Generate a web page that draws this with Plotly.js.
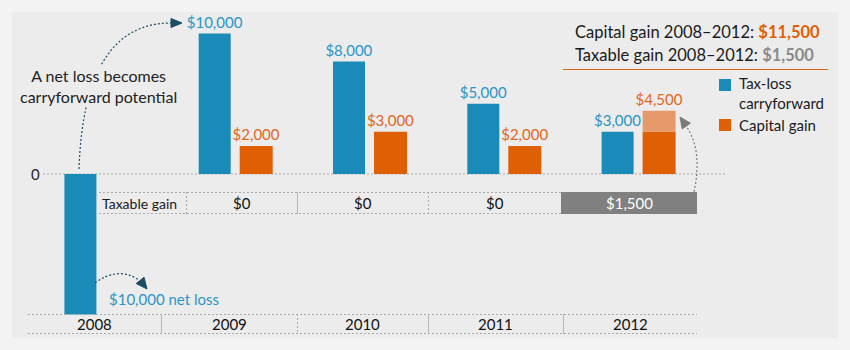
<!DOCTYPE html>
<html>
<head>
<meta charset="utf-8">
<script src="https://cdn.plot.ly/plotly-3.0.1.min.js"></script>
<style>html,body{margin:0;padding:0;background:#f3f3f3;}#chart{width:850px;height:350px;}</style>
</head>
<body>
<div id="chart"></div>
<script>
// ---- data ----
const years = [2008, 2009, 2010, 2011, 2012];
const yearLabels = ['2008', '2009', '2010', '2011', '2012'];
const carryforward = [-10000, 10000, 8000, 5000, 3000];
const capitalGain = [null, 2000, 3000, 2000, 4500];
const taxableGain = [null, 0, 0, 0, 1500];
const legendLabels = ['Tax-loss<br>carryforward', 'Capital gain'];
const rowLabel = 'Taxable gain';
const noteText = 'A net loss becomes<br>carryforward potential';

// ---- styling ----
const W = 850, H = 350;
const FONT = 'Lato, "Open Sans", sans-serif';
const BLUE = '#1a8bb8', BLUE_TXT = '#2b95c4', ORANGE = '#df5f05', ORANGE_TXT = '#e0671c',
      LIGHT_ORANGE = '#e6996a', GRAY_BOX = '#808080', GRAY_TXT = '#8a8a8a', TEAL = '#1d4d63';
const PXU = 134.3;                 // pixels per year
const fmt = v => '$' + Math.abs(v).toLocaleString('en-US');
const px = x => x / W, py = y => 1 - y / H;

// derived from data
const gainCovered = capitalGain.map((g, i) => g == null ? null : g - taxableGain[i]);
const gainTaxablePart = taxableGain.map(t => t > 0 ? t : null);
const totalGain = capitalGain.reduce((a, b) => a + (b || 0), 0);
const totalTaxable = taxableGain.reduce((a, b) => a + (b || 0), 0);

const traces = [
  {type: 'bar', x: years, y: carryforward, marker: {color: BLUE},
   width: 32 / PXU, offset: -35 / PXU,
   text: carryforward.map(v => v > 0 ? fmt(v) : ''), textposition: 'outside',
   textfont: {family: FONT, size: 15, color: BLUE_TXT}, constraintext: 'none', cliponaxis: false,
   hoverinfo: 'skip', showlegend: false},
  {type: 'bar', x: years, y: gainCovered, marker: {color: ORANGE},
   width: 33 / PXU, offset: 6 / PXU,
   text: capitalGain.map((g, i) => g && !(taxableGain[i] > 0) ? fmt(g) : ''), textposition: 'outside',
   textfont: {family: FONT, size: 15, color: ORANGE_TXT}, constraintext: 'none', cliponaxis: false,
   hoverinfo: 'skip', showlegend: false},
  {type: 'bar', x: years, y: gainTaxablePart, base: gainCovered, marker: {color: LIGHT_ORANGE},
   width: 33 / PXU, offset: 6 / PXU,
   text: capitalGain.map((g, i) => taxableGain[i] > 0 ? fmt(g) : ''), textposition: 'outside',
   textfont: {family: FONT, size: 15, color: ORANGE_TXT}, constraintext: 'none', cliponaxis: false,
   hoverinfo: 'skip', showlegend: false}
];

// ---- helper shapes ----
function line(x0, y0, x1, y1, color, dash, width) {
  return {type: 'line', xref: 'paper', yref: 'paper', x0: px(x0), y0: py(y0), x1: px(x1), y1: py(y1),
          line: {color: color, width: width || 1, dash: dash || 'solid'}};
}
function rect(x0, y0, x1, y1, fill, layer) {
  return {type: 'rect', xref: 'paper', yref: 'paper', x0: px(x0), y0: py(y0), x1: px(x1), y1: py(y1),
          fillcolor: fill, line: {width: 0}, layer: layer || 'above'};
}
function curve(x0, y0, cx, cy, x1, y1, color) {
  return {type: 'path', xref: 'paper', yref: 'paper',
          path: `M${px(x0)},${py(y0)} Q${px(cx)},${py(cy)} ${px(x1)},${py(y1)}`,
          line: {color: color, width: 1.2, dash: '2px,2px'}};
}
function head(tx, ty, dx, dy, len, hw, color) {
  const n = Math.hypot(dx, dy); dx /= n; dy /= n;
  const bx = tx - dx * len, by = ty - dy * len;
  const p1 = [bx - dy * hw, by + dx * hw], p2 = [bx + dy * hw, by - dx * hw];
  return {type: 'path', xref: 'paper', yref: 'paper',
          path: `M${px(tx)},${py(ty)} L${px(p1[0])},${py(p1[1])} L${px(p2[0])},${py(p2[1])} Z`,
          fillcolor: color, line: {color: color, width: 1}};
}

const DASH = '2px,2px', LINE_C = '#aaaaaa', SEP_C = '#b8b8b8';
const taxCells = [186, 297, 428, 561, 697];      // 2009..2012 cells of the taxable row
const yearCells = [28, 161, 297, 428, 563, 697];  // 2008..2012 cells of the year row

const shapes = [
  rect(12, 12, 838, 338, '#ececec', 'below'),
  {type: 'line', xref: 'paper', yref: 'y', x0: px(43), x1: px(725), y0: 0, y1: 0,
   line: {color: '#a8a8a8', width: 1, dash: DASH}, layer: 'below'},
  // taxable row
  line(99, 192.5, 697, 192.5, LINE_C, DASH), line(99, 213.5, 697, 213.5, LINE_C, DASH),
  line(186.5, 192, 186.5, 214, LINE_C, DASH), line(297.5, 192, 297.5, 214, SEP_C),
  line(428.5, 192, 428.5, 214, LINE_C, DASH),
  rect(561, 192, 697, 214, GRAY_BOX),
  // year row
  line(28, 314.5, 697, 314.5, LINE_C, DASH), line(28, 333.5, 697, 333.5, LINE_C, DASH),
  line(161.5, 314, 161.5, 334, SEP_C), line(297.5, 314, 297.5, 334, LINE_C, DASH),
  line(428.5, 314, 428.5, 334, SEP_C), line(563.5, 314, 563.5, 334, SEP_C),
  // summary rule
  line(563, 69.5, 828, 69.5, '#d9651e', 'solid', 1.2),
  // legend swatches
  rect(719, 79, 731, 91, BLUE), rect(719, 119, 731, 131, ORANGE),
  // arrows
  curve(79, 169, 84, 23, 171, 23, TEAL), head(182, 23, 1, 0, 11, 4.5, TEAL),
  curve(95, 283, 118, 266, 139, 280, TEAL), head(147, 289, 0.8, 1, 11, 5, TEAL),
  curve(694, 192, 703, 150, 686, 126, '#7a7a7a'), head(680, 117, -0.7, -1, 11, 5, '#7a7a7a')
];

function ann(x, y, text, opts) {
  return Object.assign({xref: 'paper', yref: 'paper', x: px(x), y: py(y), text: text, showarrow: false,
    xanchor: 'center', yanchor: 'middle', font: {family: FONT, size: 15, color: '#1a1a1a'}}, opts || {});
}

const annotations = [
  ann(35, 174, '0', {font: {family: FONT, size: 15, color: '#222'}}),
  ann(98, 86, noteText, {bgcolor: '#ececec', borderpad: 0, font: {family: FONT, size: 16, color: '#222'}}),
  ann(107, 299, fmt(carryforward[0]) + ' net loss', {xanchor: 'left', font: {family: FONT, size: 15, color: BLUE_TXT}}),
  ann(100, 203, rowLabel, {xanchor: 'left', font: {family: FONT, size: 14, color: '#1a1a1a'}}),
  ann(573, 32, 'Capital gain 2008–2012: <b><span style="color:' + ORANGE + '">' + fmt(totalGain) + '</span></b>',
      {xanchor: 'left', font: {family: FONT, size: 16.5, color: '#1a1a1a'}}),
  ann(573, 55, 'Taxable gain 2008–2012: <b><span style="color:' + GRAY_TXT + '">' + fmt(totalTaxable) + '</span></b>',
      {xanchor: 'left', font: {family: FONT, size: 16.5, color: '#1a1a1a'}}),
  ann(737, 93, legendLabels[0], {xanchor: 'left', align: 'left', font: {family: FONT, size: 15, color: '#1a1a1a'}}),
  ann(737, 125, legendLabels[1], {xanchor: 'left', font: {family: FONT, size: 15, color: '#1a1a1a'}})
];
// taxable gain cells
taxableGain.forEach((t, i) => {
  if (t == null) return;
  const c = (taxCells[i - 1] + taxCells[i]) / 2;
  annotations.push(ann(c, 203, fmt(t), {font: {family: FONT, size: 15, color: t > 0 ? '#ffffff' : '#111'}}));
});
// year cells
yearLabels.forEach((lab, i) => {
  annotations.push(ann((yearCells[i] + yearCells[i + 1]) / 2, 324, lab, {font: {family: FONT, size: 15, color: '#111'}}));
});

const y0px = 174, pxPerK = 14.05;
const layout = {
  width: W, height: H, margin: {l: 0, r: 0, t: 0, b: 0},
  paper_bgcolor: '#f3f3f3', plot_bgcolor: 'rgba(0,0,0,0)',
  barmode: 'overlay', showlegend: false,
  xaxis: {visible: false, range: [2010 - 368 / PXU, 2010 + (W - 368) / PXU], fixedrange: true},
  yaxis: {visible: false, range: [-(H - y0px) / pxPerK * 1000, y0px / pxPerK * 1000], fixedrange: true},
  shapes: shapes, annotations: annotations,
  font: {family: FONT}
};

Plotly.newPlot('chart', traces, layout, {displayModeBar: false, staticPlot: true});
</script>
</body>
</html>
